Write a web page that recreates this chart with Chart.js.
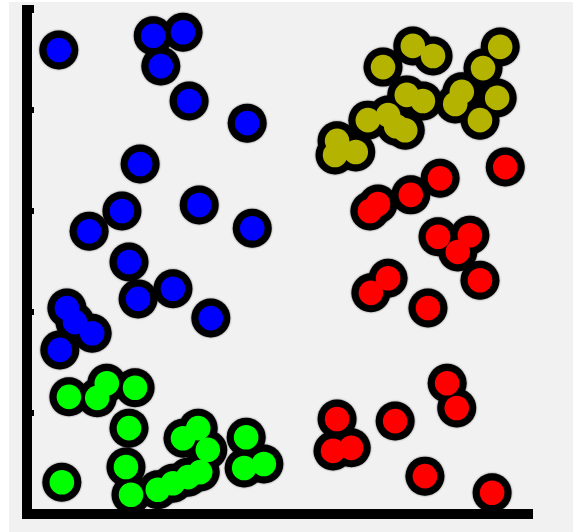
<!DOCTYPE html>
<html>
<head>
<meta charset="utf-8">
<script src="https://cdn.jsdelivr.net/npm/chart.js@4/dist/chart.umd.min.js"></script>
<style>
html,body{margin:0;padding:0;background:#ffffff;}
#wrap{position:relative;width:576px;height:532px;}
</style>
</head>
<body>
<div id="wrap"><canvas id="c" width="576" height="532"></canvas></div>
<script>
const blueX  = [0.63,2.50,3.09,2.65,3.21,4.36,2.24,3.41,1.88,1.23,4.46,2.02,2.20,2.89,3.64,0.79,0.95,1.29,0.65];
const blueY  = [9.19,9.47,9.54,8.87,8.18,7.74,6.93,6.12,6.00,5.60,5.66,4.99,4.26,4.46,3.88,4.08,3.80,3.58,3.25];
const greenX = [0.83,1.39,1.58,2.14,2.02,0.69,1.96,2.06,2.59,2.89,3.19,3.43,3.09,3.39,3.58,4.34,4.30,4.69];
const greenY = [2.32,2.30,2.59,2.50,1.70,0.63,0.93,0.38,0.48,0.61,0.73,0.83,1.50,1.70,1.27,1.52,0.91,0.99];
const oliveX = [7.05,7.64,8.04,7.52,7.84,6.75,7.15,7.31,7.49,6.14,6.10,6.51,9.37,9.03,8.61,8.48,9.31,8.97];
const oliveY = [8.85,9.27,9.07,8.30,8.18,7.80,7.90,7.68,7.60,7.39,7.11,7.17,9.25,8.83,8.36,8.12,8.24,7.80];
const redX   = [9.47,8.18,7.60,6.79,6.95,8.14,8.77,8.53,8.97,7.15,6.81,7.94,8.32,8.51,6.14,7.29,6.06,6.42,7.88,9.21];
const redY   = [6.87,6.65,6.32,6.00,6.14,5.49,5.52,5.19,4.63,4.67,4.38,4.08,2.59,2.10,1.88,1.84,1.25,1.31,0.75,0.42];
const yTickValues = [2,4,6,8];

const groups = [
  {xs: blueX,  ys: blueY,  color: '#0000ff'},
  {xs: greenX, ys: greenY, color: '#00ff00'},
  {xs: oliveX, ys: oliveY, color: '#b4b400'},
  {xs: redX,   ys: redY,   color: '#ff0000'}
];

function pts(xs, ys){ return xs.map((x,i)=>({x:x, y:ys[i]})); }
function outline(g){
  return {data: pts(g.xs, g.ys), backgroundColor:'#000000', borderWidth:0,
          pointRadius:19.5, pointHoverRadius:19.5, clip:false, outline:true};
}
function fill(g){
  return {data: pts(g.xs, g.ys), backgroundColor:g.color, borderWidth:0,
          pointRadius:12.3, pointHoverRadius:12.3, clip:false};
}

const bgPlugin = {
  id:'bg',
  beforeDraw(chart){
    const ctx = chart.ctx;
    ctx.save();
    ctx.fillStyle = '#f1f1f1';
    ctx.fillRect(9, 2, 564, 530);
    ctx.restore();
  },
  beforeDatasetsDraw(chart){
    const ctx = chart.ctx, xs = chart.scales.x, ys = chart.scales.y;
    const x0 = xs.getPixelForValue(0), x1 = xs.getPixelForValue(10);
    const y0 = ys.getPixelForValue(0), y1 = ys.getPixelForValue(ys.max);
    ctx.save();
    ctx.fillStyle = '#000000';
    ctx.fillRect(x0 - 5, y1, 10, y0 - y1 + 5);
    ctx.fillRect(x0 + 4, y1, 3, 8);
    ctx.fillRect(x0 - 5, y0 - 5, x1 - x0 + 6, 10);
    yTickValues.forEach(v => {
      const py = ys.getPixelForValue(v);
      ctx.fillRect(x0 + 4, py - 3, 3, 6);
    });
    ctx.restore();
  },
  beforeDatasetDraw(chart, args){
    if (chart.data.datasets[args.index].outline) {
      chart.ctx.save();
      chart.ctx.shadowColor = 'rgba(0,0,0,0.6)';
      chart.ctx.shadowBlur = 2;
    }
  },
  afterDatasetDraw(chart, args){
    if (chart.data.datasets[args.index].outline) chart.ctx.restore();
  }
};

// datasets are drawn in reverse order of their index; fills first in the list so they land on top
const datasets = groups.map(fill).concat(groups.map(outline));

new Chart(document.getElementById('c'), {
  type:'scatter',
  data:{datasets: datasets},
  options:{
    responsive:false, animation:false,
    layout:{autoPadding:false, padding:{left:27, right:44, top:5, bottom:18}},
    plugins:{legend:{display:false}, tooltip:{enabled:false}},
    scales:{
      x:{type:'linear', min:0, max:10, display:false},
      y:{type:'linear', min:0, max:10.08, display:false}
    }
  },
  plugins:[bgPlugin]
});
</script>
</body>
</html>
